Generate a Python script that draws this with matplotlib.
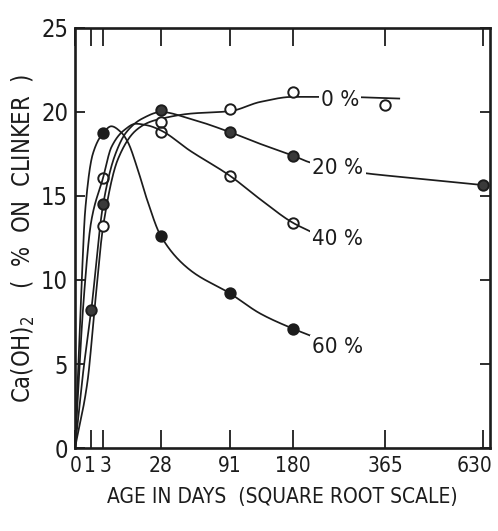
import numpy as np
import matplotlib.pyplot as plt
import matplotlib.transforms as mtransforms

plt.rcParams['font.family'] = ['DejaVu Sans']
plt.rcParams['font.stretch'] = 'condensed'
plt.rcParams['mathtext.fontset'] = 'dejavusans'

ink = '#1c1c1c'

# measured points: age (days), Ca(OH)2 (% on clinker)
age_0 = [3, 28, 91, 180, 365]
val_0 = [13.2, 19.4, 20.2, 21.2, 20.4]
age_20 = [1, 3, 28, 91, 180, 630]
val_20 = [8.2, 14.5, 20.1, 18.8, 17.4, 15.65]
age_40 = [3, 28, 91, 180]
val_40 = [16.1, 18.8, 16.2, 13.4]
age_60 = [3, 28, 91, 180]
val_60 = [18.75, 12.6, 9.2, 7.1]

# hand-drawn curves through the points
curve_age_0 = [0, 0.6, 1.5, 3, 7, 14, 21, 28, 50, 91, 130, 180, 260, 398]
curve_val_0 = [0, 4, 8.5, 13.2, 17.2, 18.9, 19.4, 19.6, 19.9, 20.05, 20.6, 20.9, 20.9, 20.8]
curve_age_20 = [0, 0.25, 1, 3, 6, 10, 17, 28, 50, 91, 130, 180, 209, 307, 440, 630]
curve_val_20 = [0, 4.5, 8.2, 14.5, 17.4, 18.8, 19.6, 20.0, 19.6, 18.8, 18.1, 17.4, 17.0, 16.4, 16.05, 15.65]
curve_age_40 = [0, 0.3, 1, 3, 5, 9, 14, 20, 28, 50, 91, 130, 180, 209]
curve_val_40 = [0, 9, 13.5, 16.1, 17.9, 18.9, 19.3, 19.2, 18.9, 17.7, 16.2, 14.8, 13.4, 12.9]
curve_age_60 = [0, 0.14, 0.4, 1.2, 3, 5, 8, 10.6, 14.6, 19.6, 28, 50, 91, 130, 180, 209]
curve_val_60 = [0, 9, 14.2, 17.5, 18.75, 19.15, 18.8, 18.2, 16.7, 14.8, 12.6, 10.6, 9.2, 8.0, 7.1, 6.7]

labels = ['0 %', '20 %', '40 %', '60 %']
label_age = [266, 262, 261, 262]
label_val = [20.7, 16.67, 12.45, 6.0]

x_ticks = [0, 1, 3, 28, 91, 180, 365, 630]


def pchip(x, y, xs):
    x = np.asarray(x, float)
    y = np.asarray(y, float)
    h = np.diff(x)
    d = np.diff(y) / h
    m = np.zeros_like(y)
    m[0], m[-1] = d[0], d[-1]
    for k in range(1, len(x) - 1):
        if d[k - 1] * d[k] > 0:
            w1 = 2 * h[k] + h[k - 1]
            w2 = h[k] + 2 * h[k - 1]
            m[k] = (w1 + w2) / (w1 / d[k - 1] + w2 / d[k])
    i = np.clip(np.searchsorted(x, xs) - 1, 0, len(h) - 1)
    t = (xs - x[i]) / h[i]
    return ((2 * t**3 - 3 * t**2 + 1) * y[i] + (t**3 - 2 * t**2 + t) * h[i] * m[i]
            + (-2 * t**3 + 3 * t**2) * y[i + 1] + (t**3 - t**2) * h[i] * m[i + 1])


def smooth(ages, vals):
    s = np.sqrt(ages)
    ss = np.linspace(s[0], s[-1], 600)
    return ss**2, pchip(s, vals, ss)


fig = plt.figure(figsize=(4.98, 5.31), dpi=100)
ax = fig.add_axes([0.1506, 0.1563, 0.8333, 0.791])
ax.set_xscale('function', functions=(lambda v: np.sqrt(np.clip(v, 0, None)), np.square))

curves = [(curve_age_0, curve_val_0), (curve_age_20, curve_val_20),
          (curve_age_40, curve_val_40), (curve_age_60, curve_val_60)]
for ca, cv in curves:
    xs, ys = smooth(ca, cv)
    ax.plot(xs, ys, color=ink, lw=1.25, zorder=2)

mk = dict(marker='o', ms=7.5, mew=1.4, mec=ink, ls='none', zorder=3)
ax.plot(age_0, val_0, mfc='white', **mk)
ax.plot(age_20, val_20, mfc='#3a3a3a', **mk)
ax.plot(age_40, val_40, mfc='none', **mk)
ax.plot(age_60, val_60, mfc=ink, **mk)

for t, a, v in zip(labels, label_age, label_val):
    ax.text(a, v, t, ha='center', va='center', fontsize=16, color=ink, zorder=4,
            bbox=dict(facecolor='white', edgecolor='none', pad=1.5))

ax.set_xlim(0, 652)
ax.set_ylim(0, 25)
ax.set_xticks(x_ticks)
ax.set_xticklabels([str(v) for v in x_ticks])
ax.set_yticks([0, 5, 10, 15, 20, 25])

ax.tick_params(axis='x', direction='in', length=13, width=1.3, top=True,
               labelsize=15, colors=ink, pad=6)
ax.tick_params(axis='y', direction='in', length=7, width=1.3, right=True,
               labelsize=17, colors=ink, pad=5)
for sp in ax.spines.values():
    sp.set_linewidth(1.9)
    sp.set_color(ink)

# pull the crowded early-age labels and the last one apart a little
shifts = {0: 1, 1: -1, 2: 2, 7: -8}
for i, lab in enumerate(ax.get_xticklabels()):
    if i in shifts:
        lab.set_transform(lab.get_transform() + mtransforms.ScaledTranslation(
            shifts[i] / 100, 0, fig.dpi_scale_trans))

ax.set_xlabel('AGE IN DAYS  (SQUARE ROOT SCALE)', fontsize=15, color=ink, labelpad=8)
ax.set_ylabel(r'Ca(OH)$_\mathregular{2}$    (  %  ON  CLINKER  )', fontsize=17,
              color=ink, labelpad=3)

fig.savefig('out.png', dpi=100, facecolor='white')
